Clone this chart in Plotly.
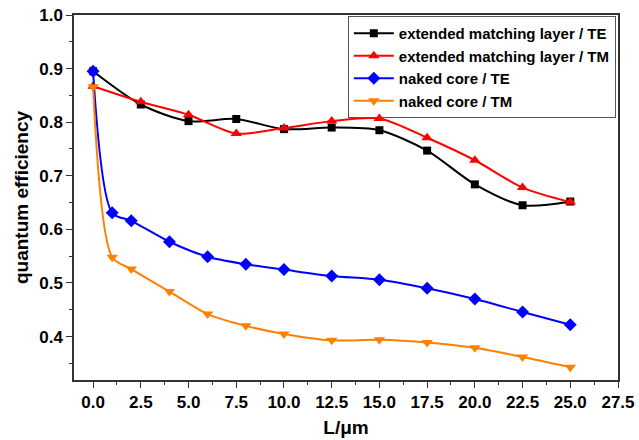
import plotly.graph_objects as go

x_ext = [0, 2.5, 5, 7.5, 10, 12.5, 15, 17.5, 20, 22.5, 25]
ext_te = [0.895, 0.833, 0.802, 0.806, 0.787, 0.790, 0.785, 0.747, 0.684, 0.645, 0.652]
ext_tm = [0.867, 0.838, 0.814, 0.779, 0.789, 0.802, 0.807, 0.771, 0.729, 0.678, 0.651]

x_naked = [0, 1, 2, 4, 6, 8, 10, 12.5, 15, 17.5, 20, 22.5, 25]
naked_te = [0.895, 0.631, 0.616, 0.577, 0.549, 0.535, 0.525, 0.513, 0.506, 0.490, 0.470, 0.446, 0.422]
naked_tm = [0.866, 0.548, 0.526, 0.484, 0.442, 0.420, 0.405, 0.393, 0.394, 0.389, 0.379, 0.362, 0.343]

names = ["extended matching layer / TE", "extended matching layer / TM",
         "naked core / TE", "naked core / TM"]
colors = ["#000000", "#ff0000", "#0000ff", "#ff8000"]
symbols = ["square", "triangle-up", "diamond", "triangle-down"]
sizes = [8, 10, 10, 10]
xs = [x_ext, x_ext, x_naked, x_naked]
ys = [ext_te, ext_tm, naked_te, naked_tm]

fig = go.Figure()
for n, c, s, sz, xv, yv in zip(names, colors, symbols, sizes, xs, ys):
    fig.add_trace(go.Scatter(
        x=xv, y=yv, name=n, mode="lines+markers",
        line=dict(color=c, width=2, shape="spline", smoothing=0.8),
        marker=dict(color=c, symbol=s, size=sz),
    ))

font_family = "Liberation Sans, Arial, sans-serif"
fig.update_layout(
    width=639, height=440,
    margin=dict(l=74, r=21, t=15, b=60),
    paper_bgcolor="white", plot_bgcolor="white",
    font=dict(family=font_family, color="black"),
    showlegend=True,
    legend=dict(
        x=0.996, y=0.997, xanchor="right", yanchor="top",
        bgcolor="rgba(255,255,255,0)", bordercolor="#555", borderwidth=1,
        font=dict(size=15, family=font_family, weight="bold"),
        tracegroupgap=0, itemwidth=40,
    ),
    xaxis=dict(
        range=[-1, 27.5], tick0=0, dtick=2.5, tickformat=".1f",
        ticks="outside", ticklen=6, tickwidth=1.2, tickcolor="#333",
        showline=True, linecolor="#333", linewidth=1.5, mirror=True,
        showgrid=False, zeroline=False, automargin=False,
        minor=dict(ticks="outside", ticklen=3, dtick=1.25, tick0=0, tickcolor="#333"),
        tickfont=dict(size=17, family=font_family, weight="bold"),
        title=dict(text="L/μm", font=dict(size=19, family=font_family, weight="bold"), standoff=10),
    ),
    yaxis=dict(
        range=[0.319, 1.0], tick0=0, dtick=0.1, tickformat=".1f",
        ticks="outside", ticklen=6, tickwidth=1.2, tickcolor="#333",
        showline=True, linecolor="#333", linewidth=1.5, mirror=True,
        showgrid=False, zeroline=False, automargin=False,
        minor=dict(ticks="outside", ticklen=3, dtick=0.05, tick0=0, tickcolor="#333"),
        tickfont=dict(size=17, family=font_family, weight="bold"),
        title=dict(text="quantum efficiency", font=dict(size=19, family=font_family, weight="bold"), standoff=6),
    ),
)

fig.write_html("out.html")
